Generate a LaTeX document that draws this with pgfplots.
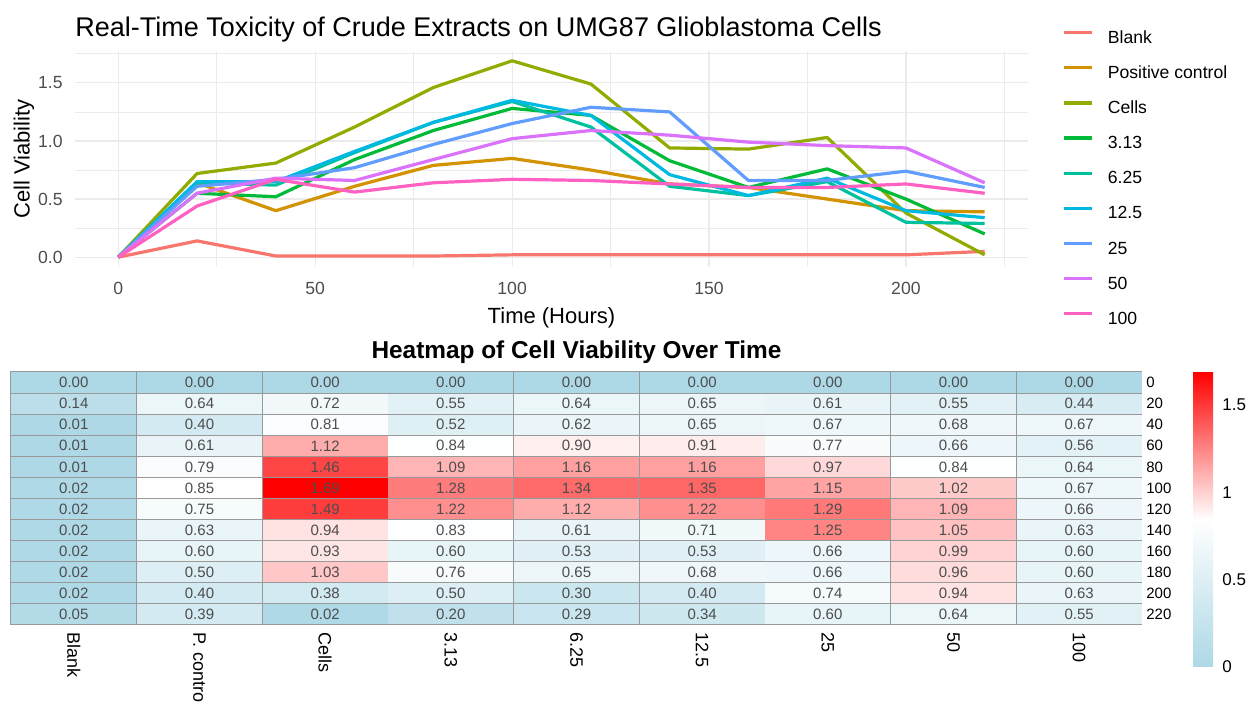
\documentclass[border=0pt]{standalone}
\usepackage{fontspec}
\setmainfont{Liberation Sans}
\usepackage{pgfplots}
\usepackage{pgfplotstable}
\pgfplotsset{compat=1.18}

% ggplot hue palette, 9 levels
\definecolor{cBlank}{HTML}{F8766D}
\definecolor{cPos}{HTML}{D39200}
\definecolor{cCells}{HTML}{93AA00}
\definecolor{cA}{HTML}{00BA38}
\definecolor{cB}{HTML}{00C19F}
\definecolor{cC}{HTML}{00B9E3}
\definecolor{cD}{HTML}{619CFF}
\definecolor{cE}{HTML}{DB72FB}
\definecolor{cF}{HTML}{FF61C3}
\definecolor{gridgray}{HTML}{EBEBEB}
\definecolor{txtgray}{HTML}{4D4D4D}
\definecolor{bordergray}{HTML}{999999}

% one heatmap cell (axis is 565.5pt x 126.5pt for 9 x 12 cells),
% a little smaller than the cell so the grey borders show between cells
\pgfdeclareplotmark{hmcell}{%
  \pgfpathrectangle{\pgfpoint{-31.17pt}{-5.02pt}}{\pgfpoint{62.34pt}{10.04pt}}%
  \pgfusepathqfill}

% cell viability, one column per treatment
\pgfplotstableread{
time Blank Pos  Cells C313 C625 C125 C25  C50  C100
0    0.00  0.00 0.00  0.00 0.00 0.00 0.00 0.00 0.00
20   0.14  0.64 0.72  0.55 0.64 0.65 0.61 0.55 0.44
40   0.01  0.40 0.81  0.52 0.62 0.65 0.67 0.68 0.67
60   0.01  0.61 1.12  0.84 0.90 0.91 0.77 0.66 0.56
80   0.01  0.79 1.46  1.09 1.16 1.16 0.97 0.84 0.64
100  0.02  0.85 1.69  1.28 1.34 1.35 1.15 1.02 0.67
120  0.02  0.75 1.49  1.22 1.12 1.22 1.29 1.09 0.66
140  0.02  0.63 0.94  0.83 0.61 0.71 1.25 1.05 0.63
160  0.02  0.60 0.93  0.60 0.53 0.53 0.66 0.99 0.60
180  0.02  0.50 1.03  0.76 0.65 0.68 0.66 0.96 0.60
200  0.02  0.40 0.38  0.50 0.30 0.40 0.74 0.94 0.63
220  0.05  0.39 0.02  0.20 0.29 0.34 0.60 0.64 0.55
}\viab

\begin{document}
\begin{tikzpicture}
\path[use as bounding box] (0,0) rectangle (624pt,355pt);

% ---- line chart
\begin{axis}[
  at={(37.5pt,221.5pt)}, anchor=south west,
  scale only axis, width=476.5pt, height=108pt,
  xmin=-11, xmax=231, ymin=-0.0845, ymax=1.7745,
  xtick={0,50,100,150,200}, minor xtick={25,75,125,175,225},
  ytick={0,0.5,1,1.5}, minor ytick={0.25,0.75,1.25,1.75},
  grid=both,
  major grid style={gridgray, line width=0.6pt},
  minor grid style={gridgray, line width=0.35pt},
  axis line style={draw=none},
  major tick length=0pt, minor tick length=0pt,
  /pgf/number format/assume math mode=true,
  tick label style={font=\fontsize{8.8}{10}\selectfont, text=txtgray, inner sep=0pt},
  yticklabel style={/pgf/number format/fixed, /pgf/number format/fixed zerofill,
    /pgf/number format/precision=1},
  xticklabel shift=7.5pt, yticklabel shift=6pt,
  title={Real-Time Toxicity of Crude Extracts on UMG87 Glioblastoma Cells},
  title style={at={(axis description cs:0,1.069)}, anchor=base west, inner sep=0pt,
    yshift=-6pt, font=\fontsize{13.5}{15}\selectfont},
  xlabel={Time (Hours)},
  xlabel style={at={(axis description cs:0.5,-0.235)}, anchor=center, inner sep=0pt,
    font=\fontsize{11}{13}\selectfont},
  ylabel={Cell Viability},
  ylabel style={at={(axis description cs:-0.0535,0.5)}, anchor=center, inner sep=0pt,
    font=\fontsize{11}{13}\selectfont},
  no markers,
  every axis plot/.append style={line width=1.6pt, line join=round},
  legend style={at={(axis description cs:1.036,1.097)}, anchor=north west,
    draw=none, fill=none, inner sep=0pt, row sep=9.25pt,
    font=\fontsize{8.8}{10}\selectfont,
    nodes={inner sep=0pt, text height=6.5pt, text depth=1.8pt},
    /tikz/every odd column/.append style={column sep=7pt}},
  legend cell align=left,
  legend image code/.code={\draw[#1] (0pt,3pt) -- (14pt,3pt);},
]
\addplot[cBlank] table[x=time, y=Blank] {\viab};
\addplot[cPos]   table[x=time, y=Pos]   {\viab};
\addplot[cCells] table[x=time, y=Cells] {\viab};
\addplot[cA]     table[x=time, y=C313]  {\viab};
\addplot[cB]     table[x=time, y=C625]  {\viab};
\addplot[cC]     table[x=time, y=C125]  {\viab};
\addplot[cD]     table[x=time, y=C25]   {\viab};
\addplot[cE]     table[x=time, y=C50]   {\viab};
\addplot[cF]     table[x=time, y=C100]  {\viab};
\legend{Blank, Positive control, Cells, 3.13, 6.25, 12.5, 25, 50, 100}
\end{axis}

% ---- heatmap
\begin{axis}[
  at={(5.5pt,169pt)}, anchor=north west,
  scale only axis, width=565.5pt, height=126.5pt,
  xmin=-0.5, xmax=8.5, ymin=-10, ymax=230, y dir=reverse,
  xtick={0,...,8},
  xticklabels={Blank, P. contro, Cells, 3.13, 6.25, 12.5, 25, 50, 100},
  ytick={0,20,...,220}, yticklabel pos=right,
  minor xtick={-0.5,0.5,...,8.5}, minor ytick={-10,10,...,230},
  xminorgrids, yminorgrids,
  minor grid style={bordergray, line width=0.5pt},
  axis line style={bordergray, line width=0.5pt},
  major tick length=0pt, minor tick length=0pt,
  axis on top,
  /pgf/number format/assume math mode=true,
  xticklabel style={rotate=-90, anchor=west, inner sep=0pt,
    font=\fontsize{9}{10}\selectfont},
  xticklabel shift=3.5pt,
  yticklabel style={anchor=west, inner sep=0pt, font=\fontsize{7.5}{9}\selectfont},
  yticklabel shift=2pt,
  title={Heatmap of Cell Viability Over Time},
  title style={at={(axis description cs:0.5,1.055)}, anchor=base, inner sep=0pt,
    yshift=-6pt, font=\fontsize{12.2}{14}\selectfont\bfseries},
  colormap={hm}{rgb255(0cm)=(173,216,230); rgb255(1cm)=(255,255,255); rgb255(2cm)=(255,0,0)},
  point meta min=0, point meta max=1.69,
  colorbar,
  colorbar style={
    at={(parent axis.north east)}, anchor=north west, xshift=17pt,
    scale only axis, width=10pt, height=147.5pt,
    ytick={0,0.5,1,1.5},
    axis line style={draw=none}, major tick length=0pt,
    /pgf/number format/assume math mode=true,
    yticklabel style={anchor=west, inner sep=0pt, font=\fontsize{8.5}{10}\selectfont},
    yticklabel shift=4.5pt,
  },
]
% coloured cells
\pgfplotsinvokeforeach{1,...,9}{
  \addplot[scatter, only marks, mark=hmcell, point meta=explicit,
    scatter/use mapped color={draw=none, fill=mapped color}]
    table[x expr=#1-1, y index=0, meta index=#1] {\viab};
}
% cell values
\pgfplotsinvokeforeach{1,...,9}{
  \addplot[only marks, mark=none, point meta=explicit,
    nodes near coords,
    nodes near coords style={anchor=center, text=txtgray,
      font=\fontsize{7.5}{9}\selectfont,
      /pgf/number format/fixed, /pgf/number format/fixed zerofill,
      /pgf/number format/precision=2}]
    table[x expr=#1-1, y index=0, meta index=#1] {\viab};
}
\end{axis}
\end{tikzpicture}
\end{document}
